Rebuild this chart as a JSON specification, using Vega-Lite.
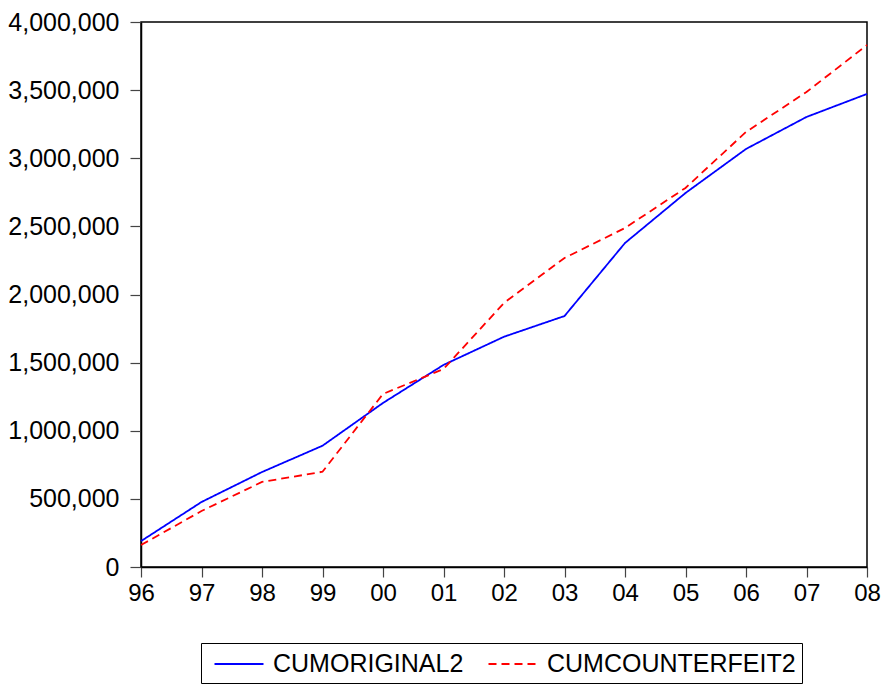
{
  "$schema": "https://vega.github.io/schema/vega-lite/v6.json",
  "autosize": "none",
  "width": 726,
  "height": 545,
  "padding": {"left": 141, "top": 22, "right": 18, "bottom": 119},
  "background": "white",
  "config": {
    "view": {"stroke": "black", "strokeWidth": 1.5},
    "font": "Liberation Sans",
    "axis": {"labelFont": "Liberation Sans", "labelFontSize": 24, "labelColor": "black", "domainColor": "black", "domainWidth": 1.5, "tickColor": "#444", "tickWidth": 1.2, "grid": false, "title": null},
    "legend": {"labelFont": "Liberation Sans", "labelFontSize": 24, "labelColor": "black"}
  },
  "data": {
    "values": [
      {"yr": "96", "series": "CUMORIGINAL2", "v": 190000},
      {"yr": "97", "series": "CUMORIGINAL2", "v": 477000},
      {"yr": "98", "series": "CUMORIGINAL2", "v": 697000},
      {"yr": "99", "series": "CUMORIGINAL2", "v": 890000},
      {"yr": "00", "series": "CUMORIGINAL2", "v": 1204000},
      {"yr": "01", "series": "CUMORIGINAL2", "v": 1483000},
      {"yr": "02", "series": "CUMORIGINAL2", "v": 1690000},
      {"yr": "03", "series": "CUMORIGINAL2", "v": 1842000},
      {"yr": "04", "series": "CUMORIGINAL2", "v": 2378000},
      {"yr": "05", "series": "CUMORIGINAL2", "v": 2745000},
      {"yr": "06", "series": "CUMORIGINAL2", "v": 3068000},
      {"yr": "07", "series": "CUMORIGINAL2", "v": 3303000},
      {"yr": "08", "series": "CUMORIGINAL2", "v": 3472000},
      {"yr": "96", "series": "CUMCOUNTERFEIT2", "v": 161000},
      {"yr": "97", "series": "CUMCOUNTERFEIT2", "v": 411000},
      {"yr": "98", "series": "CUMCOUNTERFEIT2", "v": 624000},
      {"yr": "99", "series": "CUMCOUNTERFEIT2", "v": 699000},
      {"yr": "00", "series": "CUMCOUNTERFEIT2", "v": 1270000},
      {"yr": "01", "series": "CUMCOUNTERFEIT2", "v": 1453000},
      {"yr": "02", "series": "CUMCOUNTERFEIT2", "v": 1938000},
      {"yr": "03", "series": "CUMCOUNTERFEIT2", "v": 2268000},
      {"yr": "04", "series": "CUMCOUNTERFEIT2", "v": 2488000},
      {"yr": "05", "series": "CUMCOUNTERFEIT2", "v": 2782000},
      {"yr": "06", "series": "CUMCOUNTERFEIT2", "v": 3193000},
      {"yr": "07", "series": "CUMCOUNTERFEIT2", "v": 3486000},
      {"yr": "08", "series": "CUMCOUNTERFEIT2", "v": 3831000}
    ]
  },
  "mark": {"type": "line", "strokeWidth": 1.8},
  "encoding": {
    "x": {
      "field": "yr", "type": "ordinal", "sort": null,
      "scale": {"type": "point", "padding": 0, "domain": ["96","97","98","99","00","01","02","03","04","05","06","07","08"]},
      "axis": {"labelAngle": 0, "tickSize": 10, "labelPadding": 4, "labelFontSize": 24}
    },
    "y": {
      "field": "v", "type": "quantitative",
      "scale": {"domain": [0, 4000000], "nice": false, "zero": true},
      "axis": {"values": [0,500000,1000000,1500000,2000000,2500000,3000000,3500000,4000000], "format": ",.0f", "tickSize": 11, "labelPadding": 11, "labelFontSize": 25}
    },
    "color": {
      "field": "series", "type": "nominal",
      "scale": {"domain": ["CUMORIGINAL2", "CUMCOUNTERFEIT2"], "range": ["#0000FF", "#FF0000"]},
      "legend": {
        "title": null, "orient": "none", "direction": "horizontal",
        "legendX": 60, "legendY": 621,
        "strokeColor": "black", "padding": 6,
        "symbolType": "M-1.75,0H1.75", "symbolSize": 784, "symbolStrokeWidth": 1.8,
        "symbolOffset": 17,
        "columnPadding": 17, "labelOffset": 19, "labelLimit": 0, "labelFontSize": 25
      }
    },
    "strokeDash": {
      "field": "series", "type": "nominal",
      "scale": {"domain": ["CUMORIGINAL2", "CUMCOUNTERFEIT2"], "range": [[1, 0], [8, 5]]},
      "legend": null
    }
  }
}
